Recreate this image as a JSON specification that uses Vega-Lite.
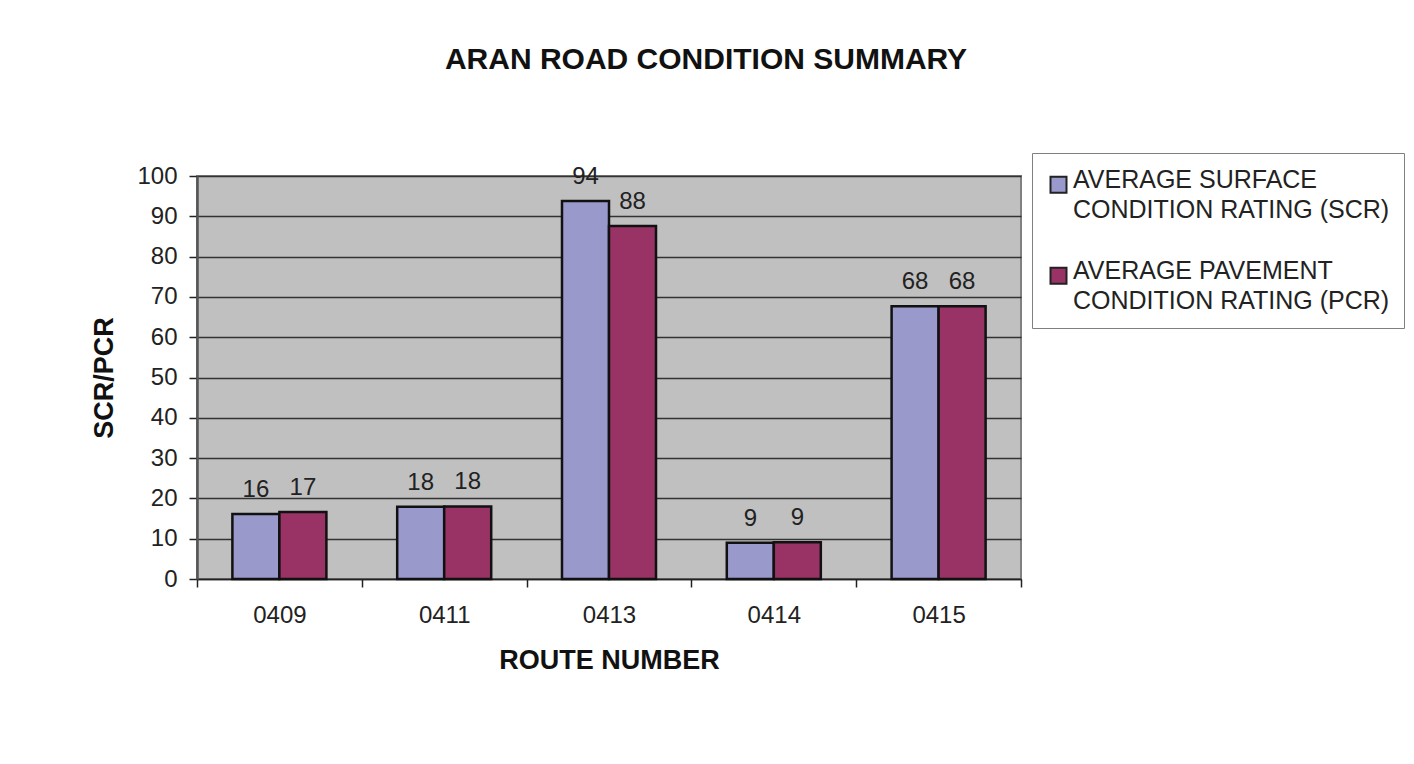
{
  "$schema": "https://vega.github.io/schema/vega-lite/v6.json",
  "width": 824,
  "height": 403,
  "autosize": {"type": "none"},
  "padding": {"left": 197, "top": 176, "right": 393, "bottom": 185},
  "background": "white",
  "config": {
    "font": "Liberation Sans",
    "view": {"fill": "#C0C0C0", "stroke": "#808080", "strokeWidth": 2},
    "style": {"guide-label": {"lineHeight": 30}}
  },
  "title": {
    "text": "ARAN ROAD CONDITION SUMMARY",
    "fontSize": 30,
    "fontWeight": "bold",
    "color": "#111111",
    "anchor": "middle",
    "frame": "group",
    "dx": 97,
    "offset": 78
  },
  "data": {
    "values": [
      {"route": "0409", "measure": "SCR", "value": 16.1},
      {"route": "0409", "measure": "PCR", "value": 16.6},
      {"route": "0411", "measure": "SCR", "value": 17.9},
      {"route": "0411", "measure": "PCR", "value": 18.0},
      {"route": "0413", "measure": "SCR", "value": 93.8},
      {"route": "0413", "measure": "PCR", "value": 87.6},
      {"route": "0414", "measure": "SCR", "value": 9.0},
      {"route": "0414", "measure": "PCR", "value": 9.1},
      {"route": "0415", "measure": "SCR", "value": 67.7},
      {"route": "0415", "measure": "PCR", "value": 67.7}
    ]
  },
  "encoding": {
    "x": {
      "field": "route",
      "type": "nominal",
      "title": "ROUTE NUMBER",
      "scale": {"paddingInner": 0, "paddingOuter": 0},
      "axis": {
        "labelAngle": 0,
        "tickBand": "extent",
        "grid": false,
        "domainColor": "#222222",
        "domainWidth": 1.5,
        "tickColor": "#222222",
        "tickWidth": 1.5,
        "tickSize": 8,
        "labelFontSize": 24,
        "labelColor": "#222222",
        "labelPadding": 16,
        "titleFontSize": 27,
        "titleFontWeight": "bold",
        "titleColor": "#111111",
        "titlePadding": 20
      }
    },
    "xOffset": {
      "field": "measure",
      "type": "nominal",
      "sort": ["SCR", "PCR"],
      "scale": {"paddingInner": 0, "paddingOuter": 0.753}
    },
    "y": {
      "field": "value",
      "type": "quantitative",
      "title": "SCR/PCR",
      "scale": {"domain": [0, 100], "nice": false},
      "axis": {
        "values": [0, 10, 20, 30, 40, 50, 60, 70, 80, 90, 100],
        "grid": true,
        "gridColor": "#333333",
        "gridWidth": 1.5,
        "domainColor": "#555555",
        "domainWidth": 2.5,
        "tickColor": "#222222",
        "tickWidth": 1.5,
        "tickSize": 8,
        "labelFontSize": 24,
        "labelColor": "#222222",
        "labelPadding": 12,
        "titleFontSize": 27,
        "titleFontWeight": "bold",
        "titleColor": "#111111",
        "titlePadding": 18
      }
    }
  },
  "layer": [
    {
      "mark": {"type": "bar", "stroke": "#111111", "strokeWidth": 2.5},
      "encoding": {
        "color": {
          "field": "measure",
          "type": "nominal",
          "sort": ["SCR", "PCR"],
          "scale": {"domain": ["SCR", "PCR"], "range": ["#9999CC", "#993366"]},
          "legend": {
            "title": null,
            "orient": "none",
            "legendX": 835,
            "legendY": -23,
            "padding": 14,
            "fillColor": "white",
            "strokeColor": "#808080",
            "rowPadding": 35,
            "labelFontSize": 25,
            "labelColor": "#222222",
            "labelLimit": 600,
            "labelOffset": 2,
            "labelExpr": "datum.label == 'SCR' ? ['AVERAGE SURFACE', 'CONDITION RATING (SCR)'] : ['AVERAGE PAVEMENT', 'CONDITION RATING (PCR)']",
            "symbolType": "M-1,-0.35H1V1.65H-1Z",
            "symbolSize": 256,
            "symbolStrokeColor": "#222222",
            "symbolStrokeWidth": 2
          }
        }
      }
    },
    {
      "mark": {"type": "text", "baseline": "alphabetic", "dy": -17, "fontSize": 24, "color": "#222222"},
      "encoding": {
        "text": {"field": "value", "type": "quantitative", "format": ".0f"}
      }
    }
  ]
}
